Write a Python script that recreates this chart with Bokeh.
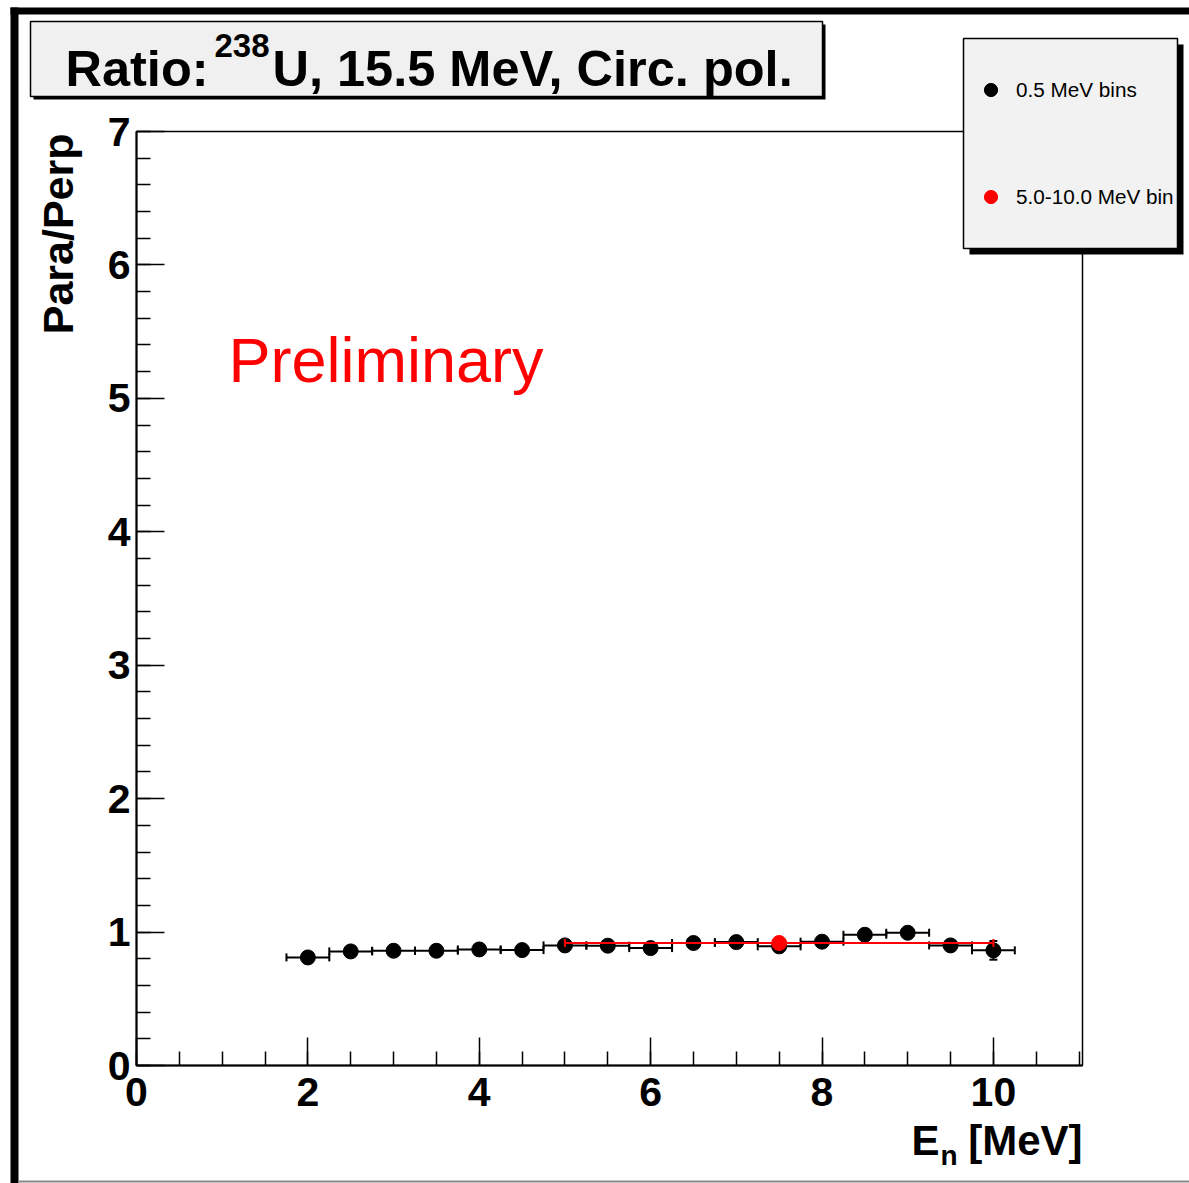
import math
from bokeh.plotting import figure
from bokeh.models import (Range1d, SingleIntervalTicker, BoxAnnotation, Label,
                          Legend, LegendItem, ColumnDataSource, LinearAxis)
from bokeh.embed import file_html
from bokeh.resources import INLINE

# ---------------- data ----------------
x_bins = [2.0, 2.5, 3.0, 3.5, 4.0, 4.5, 5.0, 5.5, 6.0, 6.5, 7.0, 7.5, 8.0, 8.5, 9.0, 9.5, 10.0]
ratio_bins = [0.81, 0.855, 0.86, 0.86, 0.87, 0.865, 0.90, 0.898, 0.88, 0.918, 0.925, 0.893,
              0.928, 0.98, 0.995, 0.90, 0.863]
xerr_bins = [0.25] * 17
yerr_bins = [0.03, 0.03, 0.03, 0.03, 0.03, 0.03, 0.03, 0.03, 0.03, 0.03, 0.03, 0.03,
             0.03, 0.03, 0.03, 0.03, 0.07]

x_wide = [7.5]
ratio_wide = [0.918]
xerr_wide = [2.5]
yerr_wide = [0.025]

x_min, x_max = 0.0, 11.04
y_min, y_max = 0.0, 7.0

FONT = "Liberation Sans"

# canvas and frame placement (pixels)
W, H = 1189, 1183
FL, FR, FT, FB = 136, 1082, 131, 1065
ppx = (FR - FL) / (x_max - x_min)
ppy = (FB - FT) / (y_max - y_min)

p = figure(width=W, height=H,
           x_range=Range1d(x_min - FL / ppx, x_max + (W - FR) / ppx),
           y_range=Range1d(y_min - (H - FB) / ppy, y_max + FT / ppy),
           x_axis_type=None, y_axis_type=None,
           output_backend="svg", toolbar_location=None, min_border=0,
           background_fill_color="white", border_fill_color="white")
p.outline_line_color = None
p.xgrid.visible = False
p.ygrid.visible = False


def sx(px):
    return px


def sy(py):
    return H - py


# ---------------- decorations ----------------
def box(l, r, t, b, fill, line_color=None, line_width=0):
    ba = BoxAnnotation(left=sx(l), right=sx(r), top=sy(t), bottom=sy(b),
                       left_units="screen", right_units="screen",
                       top_units="screen", bottom_units="screen",
                       fill_color=fill, fill_alpha=1.0,
                       line_color=line_color if line_color else fill,
                       line_alpha=1.0 if line_color else 0.0,
                       line_width=line_width, line_dash="solid")
    p.add_layout(ba)
    return ba


box(10, 18, 7, 1183, "black")
box(10, 1189, 7, 14, "black")
box(18, 1189, 1180, 1182, "#888888")

# plot frame
p.add_layout(BoxAnnotation(left=x_min, right=x_max, bottom=y_min, top=y_max,
                           fill_alpha=0.0, line_color="black", line_alpha=1.0,
                           line_width=1.5, line_dash="solid"))

# title box with shadow
box(33, 825, 24, 99, "black")
box(30, 822, 21, 96, "#f0f0f0", "black", 1.5)

# legend box with shadow
box(969, 1183, 44, 254, "black")
box(963, 1177, 38, 248, "#f2f2f2", "black", 1.5)

# ---------------- axes ----------------
xaxis = LinearAxis(fixed_location=y_min, bounds=(x_min, x_max),
                   ticker=SingleIntervalTicker(interval=2, num_minor_ticks=4))
yaxis = LinearAxis(fixed_location=x_min, bounds=(y_min, y_max),
                   ticker=SingleIntervalTicker(interval=1, num_minor_ticks=5))
for ax in (xaxis, yaxis):
    ax.major_tick_in = 28
    ax.major_tick_out = 0
    ax.minor_tick_in = 14
    ax.minor_tick_out = 0
    ax.major_tick_line_width = 1.5
    ax.minor_tick_line_width = 1.5
    ax.axis_line_width = 2
    ax.major_label_text_font = FONT
    ax.major_label_text_font_style = "bold"
    ax.major_label_text_font_size = "41px"
    ax.major_label_text_color = "black"
xaxis.major_label_standoff = 12
yaxis.major_label_standoff = 6
p.add_layout(xaxis, "below")
p.add_layout(yaxis, "left")

# ---------------- data glyphs ----------------
def make_src(x, y, xe, ye):
    return ColumnDataSource(dict(
        x=x, y=y,
        xlo=[a - e for a, e in zip(x, xe)], xhi=[a + e for a, e in zip(x, xe)],
        ylo=[a - e for a, e in zip(y, ye)], yhi=[a + e for a, e in zip(y, ye)],
    ))


src_b = make_src(x_bins, ratio_bins, xerr_bins, yerr_bins)
src_r = make_src(x_wide, ratio_wide, xerr_wide, yerr_wide)


def draw_series(src, color):
    p.segment(x0="xlo", x1="xhi", y0="y", y1="y", source=src, line_color=color, line_width=2)
    p.segment(x0="x", x1="x", y0="ylo", y1="yhi", source=src, line_color=color, line_width=2)
    for col in ("xlo", "xhi"):
        p.scatter(x=col, y="y", source=src, marker="dash", angle=math.pi / 2, size=8,
                  line_color=color, line_width=2)
    for col in ("ylo", "yhi"):
        p.scatter(x="x", y=col, source=src, marker="dash", size=8,
                  line_color=color, line_width=2)
    return p.scatter(x="x", y="y", source=src, marker="circle", size=15,
                     fill_color=color, line_color=color)


r_black = draw_series(src_b, "black")
r_red = draw_series(src_r, "red")

# ---------------- legend ----------------
leg = Legend(items=[LegendItem(label="0.5 MeV bins", renderers=[r_black]),
                    LegendItem(label="5.0-10.0 MeV bin", renderers=[r_red])],
             location=(sx(974), H - 75 - 138),
             background_fill_alpha=0.0, border_line_alpha=0.0,
             padding=0, margin=0, spacing=74,
             glyph_width=33, glyph_height=33, label_height=32, label_standoff=9,
             label_text_font=FONT, label_text_font_size="20.7px", label_text_color="black")
p.add_layout(leg)

# ---------------- texts ----------------
MID = 0.349  # distance (em) from the label anchor (box centre) up to the baseline


def label(px, py_base, text, size, bold=True, align="left", color="black", angle=0.0):
    if angle == 0.0:
        ax_, ay_ = sx(px), sy(py_base - MID * size)
    else:
        ax_, ay_ = sx(px - MID * size), sy(py_base)
    lb = Label(x=ax_, y=ay_, x_units="screen", y_units="screen", text=text,
               text_font=FONT, text_font_size=f"{size}px",
               text_font_style="bold" if bold else "normal",
               text_align=align, text_baseline="alphabetic", text_color=color, angle=angle)
    p.add_layout(lb)
    return lb


label(65, 86, "Ratio:", 50.5)
label(214, 57, "238", 33)
label(272, 86, "U, 15.5 MeV, Circ. pol.", 50.5)

label(228, 381, "Preliminary", 63, bold=False, color="red")

label(73, 133, "Para/Perp", 43, align="right", angle=math.pi / 2)
label(939, 1155, "E", 42, align="right")
label(940, 1165, "n", 28)
label(1082, 1155, "[MeV]", 42, align="right")

open("out.html", "w").write(file_html(p, INLINE))
